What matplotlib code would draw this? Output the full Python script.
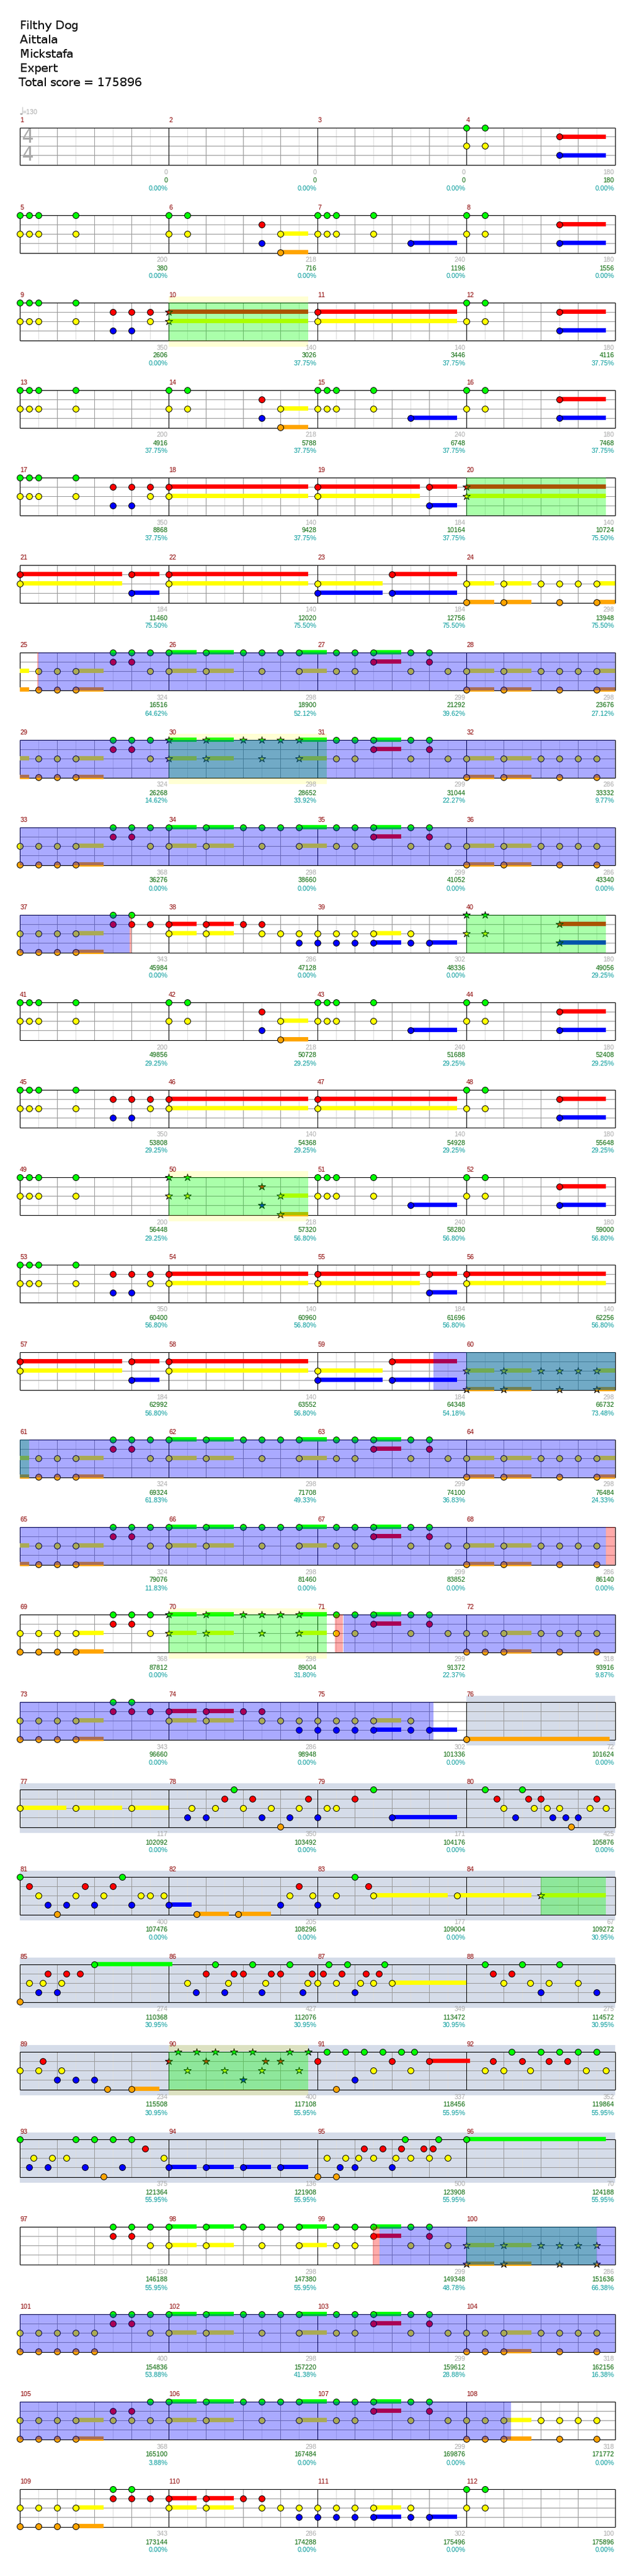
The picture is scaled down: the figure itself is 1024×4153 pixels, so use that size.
# %%
import matplotlib
matplotlib.use("Agg")
import matplotlib.pyplot as plt

# %%
# song header
HEADER = ["Filthy Dog", "Aittala", "Mickstafa", "Expert", "Total score = 175896"]
TEMPO = "=130"

# notes per row, one list per lane: green, red, yellow, blue, orange
# a number is a plain note, (beat, end) a sustain, negative beat = tail from the row before
R_INTRO = [[12, 12.5], [(14.5, 15.75)], [12, 12.5], [(14.5, 15.75)], []]
R_VERSE_A = [
    [0, .25, .5, 1.5, 4, 4.5, 8, 8.25, 8.5, 9.5, 12, 12.5],
    [6.5, (14.5, 15.75)],
    [0, .25, .5, 1.5, 4, 4.5, (7, 7.75), 8, 8.25, 8.5, 9.5, 12, 12.5],
    [6.5, (10.5, 11.75), (14.5, 15.75)],
    [(7, 7.75)],
]
R_VERSE_B = [
    [0, .25, .5, 1.5, 12, 12.5],
    [2.5, 3, 3.5, (4, 7.75), (8, 11.75), (14.5, 15.75)],
    [0, .25, .5, 1.5, 3.5, (4, 7.75), (8, 11.75), 12, 12.5],
    [2.5, 3, (14.5, 15.75)],
    [],
]
R_VERSE_C = [
    [0, .25, .5, 1.5],
    [2.5, 3, 3.5, (4, 7.75), (8, 10.75), (11, 11.75), (12, 15.75)],
    [0, .25, .5, 1.5, 3.5, (4, 7.75), (8, 10.75), (12, 15.75)],
    [2.5, 3, (11, 11.75)],
    [],
]
R_BRIDGE = [
    [],
    [(0, 2.75), (3, 3.75), (4, 7.75), (10, 11.75)],
    [(0, 2.75), (4, 7.75), (8, 9.75), (12, 12.75), (13, 13.75), 14, 14.5, 15, (15.5, 16)],
    [(3, 3.75), (8, 9.75), (10, 11.75)],
    [(12, 12.75), (13, 13.75), 14.5, (15.5, 16)],
]
GREEN_RIFF = [2.5, 3, 3.5, (4, 4.75), (5, 5.75), 6, 6.5, 7, (7.5, 8.25), 8.5, 9,
              (9.5, 10.25), 10.5, 11]
RED_RIFF = [2.5, 3, (9.5, 10.25), 11]
YELLOW_RIFF = [3.5, (4, 4.75), (5, 5.75), 6.5, (7.5, 8.25), 8.5, 9, 10.5, 11.5]
R_CHORUS_A = [
    GREEN_RIFF, RED_RIFF,
    [(-.5, .25), .5, 1, (1.5, 2.25)] + YELLOW_RIFF + [(12, 12.75), (13, 13.75), 14, 14.5, 15, (15.5, 16)],
    [],
    [(-.5, .25), .5, 1, (1.5, 2.25), (12, 12.75), (13, 13.75), 14.5, (15.5, 16)],
]
R_CHORUS_B = [
    GREEN_RIFF, RED_RIFF,
    [(-.5, .25), .5, 1, (1.5, 2.25)] + YELLOW_RIFF + [(12, 12.75), (13, 13.75), 14, 14.5, 15, 15.5],
    [],
    [(-.5, .25), .5, 1, (1.5, 2.25), (12, 12.75), (13, 13.75), 14.5, 15.5],
]
R_CHORUS_C = [
    GREEN_RIFF, RED_RIFF,
    [0, .5, 1, (1.5, 2.25)] + YELLOW_RIFF + [(12, 12.75), (13, 13.75), 14, 14.5, 15, 15.5],
    [],
    [0, .5, 1, (1.5, 2.25), (12, 12.75), (13, 13.75), 14.5, 15.5],
]
R_OUT_A = [
    [2.5, 3, 12, 12.5],
    [2.5, 3, 3.5, (4, 4.75), (5, 5.75), 6, 6.5, (14.5, 15.75)],
    [0, .5, 1, (1.5, 2.25), (4, 4.75), (5, 5.75), 6.5, 7, 7.5, 8, 8.5, 9, (9.5, 10.25), 10.5, 12, 12.5],
    [7.5, 8, 8.5, 9, (9.5, 10.25), 10.5, (11, 11.75), (14.5, 15.75)],
    [0, .5, 1, (1.5, 2.25)],
]
R_CHORUS_D = [
    GREEN_RIFF, RED_RIFF,
    [0, .5, 1, (1.5, 2.25)] + YELLOW_RIFF + [12, 12.5, (13, 13.75), 14, 14.5, 15, 15.5],
    [],
    [0, .5, 1, (1.5, 2.25), 12, 12.5, (13, 13.75), 14.5, 15.5],
]
R_OUT_B = [
    [2.5, 3],
    [2.5, 3, 3.5, (4, 4.75), (5, 5.75), 6, 6.5],
    [0, .5, 1, (1.5, 2.25), (4, 4.75), (5, 5.75), 6.5, 7, 7.5, 8, 8.5, 9, (9.5, 10.25), 10.5],
    [7.5, 8, 8.5, 9, (9.5, 10.25), 10.5, (11, 11.75)],
    [0, .5, 1, (1.5, 2.25), (12, 15.85)],
]
R_SOLO_A = [
    [5.75, 9.5, 12.5, 13.5],
    [5.5, 6.25, 7.75, 9, 12.82, 13.67, 14, 15.5],
    [(0, 1.25), (1.5, 2.75), (3, 4), 4.62, 5.26, 6, 6.75, 7.5, 8.25, 8.5, 13, 13.82, 14.17, 14.5, 15.32, 15.75],
    [4.5, 5, 6.5, 7.25, 8, (10, 11.75), 13.32, 14.33, 14.67, 15],
    [7, 14.82],
]
R_SOLO_B = [
    [0, 2.75, 9],
    [.25, 1.75, 2.5, 7.5, 9.37],
    [.5, 1.5, 2.25, 3.25, 3.5, 3.87, 7.25, 7.87, 8.5, (9.5, 11.5), (11.75, 13.75), (14, 15.75)],
    [.75, 1.25, 2, 3, (4, 4.62), 7, 8],
    [1, (4.75, 5.62), (5.87, 6.75)],
]
R_SOLO_C = [
    [(2, 4.1), 5.25, 6.25, 7.25, 8.3, 8.8, 9.8, 12.5, 13.5, 14.5],
    [.75, 1.25, 1.62, 5, 5.75, 6, 6.75, 7, 7.86, 8.15, 8.65, 9.3, 9.65, 12.73, 13.23],
    [.25, .62, 1.12, 4.5, 5.6, 6.6, 7.74, 8, 8.5, 9.15, 9.5, (10, 12), 13, 13.73, 14.23, 15],
    [.5, 1, 4.74, 5.5, 6.5, 7.6, 9, 14, 15.5],
    [0],
]
R_SOLO_D = [
    [4.25, 4.75, 5.25, 5.75, 6.25, 7.25, 7.75, 8.25, 8.75, 9.25, 9.75, 10.25, 10.6,
     13.23, 14, 14.5, 15, 15.5],
    [.62, 4, 5, 6.6, 7, 8, 10, (11, 12.1), 12.73, 13.5, 14.23, 14.73],
    [0, .5, 1.12, 4.5, 5.5, 6.5, 7.5, 9.5, 10.5, 12.5, 13, 13.73, 15.23, 15.75],
    [1, 1.5, 2, 6, 9],
    [2.36, (3, 3.75), 8.5],
]
R_SOLO_E = [
    [0, 1.5, 2, 2.5, 3, 10.36, 11.25, (12, 15.75)],
    [3.37, 9.25, 9.75, 10.25, 10.86, 11.11],
    [.37, .87, 1.25, 3.87, 8.25, 8.75, 9.11, 9.5, 10.11, 10.5, 11, 11.5],
    [.25, .75, 1.75, 2.75, (4, 4.75), (5, 5.75), (6, 6.75), (7, 7.75), 8.61, 9, 10],
    [2.25, 8, 8.5],
]
R_CHORUS_E = [
    GREEN_RIFF, RED_RIFF,
    YELLOW_RIFF + [(12, 12.75), (13, 13.75), 14, 14.5, 15, 15.5],
    [],
    [(12, 12.75), (13, 13.75), 14.5, 15.5],
]
R_CHORUS_F = [
    GREEN_RIFF, RED_RIFF,
    [0, .5, 1, 1.5, 2] + YELLOW_RIFF + [12, 12.5, (13, 13.75), 14, 14.5, 15, 15.5],
    [],
    [0, .5, 1, 1.5, 2, 12, 12.5, (13, 13.75), 14.5, 15.5],
]
R_CHORUS_G = [
    GREEN_RIFF[2:], RED_RIFF,
    [0, .5, 1, (1.5, 2.25), 2.5, 3] + YELLOW_RIFF + [12, 12.5, (13, 13.75), 14, 14.5, 15, 15.5],
    [],
    [0, .5, 1, (1.5, 2.25), 12, 12.5, (13, 13.75), 14.5, 15.5],
]
R_END = [
    [2.5, 3, 12, 12.5],
    [2.5, 3, 3.5, (4, 4.75), (5, 5.75), 6, 6.5],
    [0, .5, 1, (1.5, 2.25), (4, 4.75), (5, 5.75), 6.5, 7, 7.5, 8, 8.5, 9, (9.5, 10.25), 10.5, 12, 12.5],
    [7.5, 8, 8.5, 9, (9.5, 10.25), 10.5, (11, 11.75)],
    [0, .5, 1, (1.5, 2.25)],
]

ROWS = [R_INTRO, R_VERSE_A, R_VERSE_B, R_VERSE_A, R_VERSE_C, R_BRIDGE, R_CHORUS_A, R_CHORUS_B,
        R_CHORUS_C, R_OUT_A, R_VERSE_A, R_VERSE_B, R_VERSE_A, R_VERSE_C, R_BRIDGE, R_CHORUS_A,
        R_CHORUS_B, R_CHORUS_D, R_OUT_B, R_SOLO_A, R_SOLO_B, R_SOLO_C, R_SOLO_D, R_SOLO_E,
        R_CHORUS_E, R_CHORUS_F, R_CHORUS_G, R_END]

# score texts, four per row
BAR_SCORES = [
    [0, 0, 0, 180], [200, 218, 240, 180], [350, 140, 140, 180], [200, 218, 240, 180],
    [350, 140, 184, 140], [184, 140, 184, 298], [324, 298, 299, 298], [324, 298, 299, 286],
    [368, 298, 299, 286], [343, 286, 302, 180], [200, 218, 240, 180], [350, 140, 140, 180],
    [200, 218, 240, 180], [350, 140, 184, 140], [184, 140, 184, 298], [324, 298, 299, 298],
    [324, 298, 299, 286], [368, 298, 299, 318], [343, 286, 302, 72], [117, 350, 171, 425],
    [400, 205, 177, 67], [274, 427, 349, 275], [234, 400, 337, 352], [375, 136, 500, 70],
    [150, 298, 299, 286], [400, 298, 299, 318], [368, 298, 299, 318], [343, 286, 302, 100],
]
TOTALS = [
    [0, 0, 0, 180], [380, 716, 1196, 1556], [2606, 3026, 3446, 4116], [4916, 5788, 6748, 7468],
    [8868, 9428, 10164, 10724], [11460, 12020, 12756, 13948], [16516, 18900, 21292, 23676],
    [26268, 28652, 31044, 33332], [36276, 38660, 41052, 43340], [45984, 47128, 48336, 49056],
    [49856, 50728, 51688, 52408], [53808, 54368, 54928, 55648], [56448, 57320, 58280, 59000],
    [60400, 60960, 61696, 62256], [62992, 63552, 64348, 66732], [69324, 71708, 74100, 76484],
    [79076, 81460, 83852, 86140], [87812, 89004, 91372, 93916], [96660, 98948, 101336, 101624],
    [102092, 103492, 104176, 105876], [107476, 108296, 109004, 109272],
    [110368, 112076, 113472, 114572], [115508, 117108, 118456, 119864],
    [121364, 121908, 123908, 124188], [146188, 147380, 149348, 151636],
    [154836, 157220, 159612, 162156], [165100, 167484, 169876, 171772],
    [173144, 174288, 175496, 175896],
]
PERCENTS = [
    [0, 0, 0, 0], [0, 0, 0, 0], [0, 37.75, 37.75, 37.75], [37.75, 37.75, 37.75, 37.75],
    [37.75, 37.75, 37.75, 75.5], [75.5, 75.5, 75.5, 75.5], [64.62, 52.12, 39.62, 27.12],
    [14.62, 33.92, 22.27, 9.77], [0, 0, 0, 0], [0, 0, 0, 29.25], [29.25, 29.25, 29.25, 29.25],
    [29.25, 29.25, 29.25, 29.25], [29.25, 56.8, 56.8, 56.8], [56.8, 56.8, 56.8, 56.8],
    [56.8, 56.8, 54.18, 73.48], [61.83, 49.33, 36.83, 24.33], [11.83, 0, 0, 0],
    [0, 31.8, 22.37, 9.87], [0, 0, 0, 0], [0, 0, 0, 0], [0, 0, 0, 30.95],
    [30.95, 30.95, 30.95, 30.95], [30.95, 55.95, 55.95, 55.95], [55.95, 55.95, 55.95, 55.95],
    [55.95, 55.95, 48.78, 66.38], [53.88, 41.38, 28.88, 16.38], [3.88, 0, 0, 0], [0, 0, 0, 0],
]

# overlays as (row index, start beat, end beat)
PHRASES = [(2, 4, 7.75), (4, 12, 15.75), (7, 4, 8.25), (9, 12, 15.75), (12, 4, 7.75),
           (14, 12, 16), (15, 0, .25), (17, 4, 8.25), (20, 14, 15.75), (22, 4, 7.75),
           (24, 12, 15.5)]
PHRASE_BANDS = [(2, 4, 7.75), (7, 4, 8.25), (12, 4, 7.75), (17, 4, 8.25), (22, 4, 7.75)]
ACTIVE = [(6, .5, 16), (7, 0, 16), (8, 0, 16), (9, 0, 2.96), (14, 11.13, 16), (15, 0, 16),
          (16, 0, 15.76), (17, 8.7, 16), (18, 0, 11.13), (24, 9.68, 16), (25, 0, 16),
          (26, 0, 13.2)]
PINK = [(6, .48, .5), (9, 2.96, 3), (16, 15.76, 16), (17, 8.48, 8.7), (24, 9.49, 9.68)]
SOLO = [(18, 12, 16), (19, 0, 16), (20, 0, 16), (21, 0, 16), (22, 0, 16), (23, 0, 16)]

LANE_COLORS = ["#00ff00", "#ff0000", "#ffff00", "#0000ff", "#ffa500"]

# %%
W, H = 1024, 4153
LEFT, STAFF_W, STAFF_H, LANE_H = 31.5, 960, 61, 15
TOP, ROW_STEP = 205.5, 141
PX = 0.72  # points per pixel at dpi 100
LABEL_FONT = "Liberation Sans"
LABEL_SIZE = 11.5 * PX

plt.rcParams["font.family"] = ["DejaVu Sans"]
plt.rcParams["text.hinting"] = "native"
plt.rcParams["text.hinting_factor"] = 1
fig = plt.figure(figsize=(W / 100, H / 100), dpi=100, facecolor="white")

for i, line in enumerate(HEADER):
    x = 30 if i == 4 else 32
    fig.text(x / W, 1 - (42 + 23 * i) / H, line, fontsize=13.4, color="#111111", va="center")

def row_spans(spans, row):
    return [(a, b) for r, a, b in spans if r == row]

def draw_row(row):
    top = TOP + ROW_STEP * row
    ax = fig.add_axes([LEFT / W, 1 - (top + STAFF_H) / H, STAFF_W / W, STAFF_H / H])
    ax.set_xlim(0, 16)
    ax.set_ylim(STAFF_H / LANE_H, 0)
    ax.set_axis_off()
    bottom = STAFF_H / LANE_H
    pad = 10 / LANE_H

    # solo background
    for a, b in row_spans(SOLO, row):
        ax.fill_between([a, b], -pad, bottom + pad, color="#d5dce9", lw=0, zorder=0, clip_on=False)

    # grid
    half = [b + .5 for b in range(16)]
    beats = [b for b in range(17) if b % 4]
    ax.vlines(half, 0, bottom, color="#dddddd", lw=PX, zorder=1)
    ax.vlines(beats, 0, bottom, color="#999999", lw=PX, zorder=1)
    ax.hlines([1, 2, 3], 0, 16, color="#999999", lw=PX, zorder=1.1)
    ax.hlines([0, bottom], 0, 16, color="black", lw=PX * 1.1, zorder=1.2, clip_on=False)
    ax.vlines([0, 4, 8, 12, 16], 0, bottom, color="black", lw=PX, zorder=1.2, clip_on=False)

    # notes
    stars = row_spans(PHRASES, row)
    for lane, notes in enumerate(ROWS[row]):
        color = LANE_COLORS[lane]
        for note in notes:
            start, end = note if isinstance(note, tuple) else (note, None)
            if end is not None:
                left = max(start, 0)
                ax.barh(lane, end - left, left=left, height=7 / LANE_H, color=color, lw=0,
                        zorder=2, clip_on=False)
            if start < 0:
                continue
            if any(a <= start <= b for a, b in stars):
                ax.plot(start, lane, marker="*", ms=13 * PX, mfc=color, mec="black", mew=PX,
                        zorder=3, clip_on=False)
            else:
                ax.plot(start, lane, marker="o", ms=9.8 * PX, mfc=color, mec="black", mew=PX,
                        zorder=3, clip_on=False)

    # overlays sit on top of the notes and tint them
    for a, b in row_spans(PHRASES, row):
        ax.axvspan(a, b, color="#00ff00", alpha=1 / 3, lw=0, zorder=4)
    for a, b in row_spans(PHRASE_BANDS, row):
        ax.fill_between([a, b], -pad, 0, color="#ffff00", alpha=1 / 6, lw=0, zorder=4, clip_on=False)
        ax.fill_between([a, b], bottom, bottom + pad, color="#ffff00", alpha=1 / 6, lw=0, zorder=4,
                        clip_on=False)
    for a, b in row_spans(ACTIVE, row):
        ax.axvspan(a, b, color="#0000ff", alpha=1 / 3, lw=0, zorder=4.1)
    for a, b in row_spans(PINK, row):
        ax.axvspan(a, b, color="#ff0000", alpha=1 / 3, lw=0, zorder=4.1)

    # texts
    for m in range(4):
        ax.text(m * 4 + .01, -11.5 / LANE_H, str(row * 4 + m + 1), color="#8b0000", fontsize=LABEL_SIZE,
                family=LABEL_FONT, ha="left", va="center", zorder=5, clip_on=False)
        x = (m + 1) * 4 - .02
        ax.text(x, bottom + 12 / LANE_H, str(BAR_SCORES[row][m]), color="#aaaaaa", fontsize=LABEL_SIZE,
                family=LABEL_FONT, ha="right", va="center", zorder=5, clip_on=False)
        ax.text(x, bottom + 25 / LANE_H, str(TOTALS[row][m]), color="#006400", fontsize=LABEL_SIZE,
                family=LABEL_FONT, ha="right", va="center", zorder=5, clip_on=False)
        ax.text(x, bottom + 38 / LANE_H, f"{PERCENTS[row][m]:.2f}%", color="#009999", fontsize=LABEL_SIZE,
                family=LABEL_FONT, ha="right", va="center", zorder=5, clip_on=False)
    return ax

axes = [draw_row(r) for r in range(len(ROWS))]

# %%
# tempo mark and time signature on the first row
first = axes[0]
first.text(-.02, -25 / LANE_H, "\u2669", color="#aaaaaa", fontsize=17 * PX, ha="left", va="center",
           zorder=5, clip_on=False)
first.text(.09, -25 / LANE_H, TEMPO, color="#aaaaaa", fontsize=LABEL_SIZE, family=LABEL_FONT, ha="left",
           va="center", zorder=5, clip_on=False)
for y in [1, 3]:
    first.text(.22, y, "4", color="#aaaaaa", fontsize=31 * PX, ha="center", va="center", zorder=1.5,
               family="DejaVu Sans", clip_on=False)

fig.savefig("out.png", dpi=100, facecolor="white")
